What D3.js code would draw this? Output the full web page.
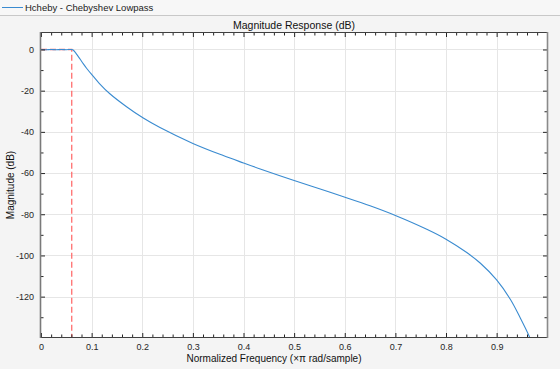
<!DOCTYPE html>
<html><head><meta charset="utf-8">
<script src="https://cdn.jsdelivr.net/npm/d3@7"></script>
<style>
html,body{margin:0;padding:0;background:#f4f4f4;}
svg{display:block;font-family:"Liberation Sans",Arial,Helvetica,sans-serif;}
</style></head>
<body><div id="chart"></div>
<script>
const legendLabel = "Hcheby - Chebyshev Lowpass";
const chartTitle = "Magnitude Response (dB)";
const xLabel = "Normalized Frequency (\u00d7\u03c0 rad/sample)";
const yLabel = "Magnitude (dB)";
const xTicks = [0, 0.1, 0.2, 0.3, 0.4, 0.5, 0.6, 0.7, 0.8, 0.9];
const xTickLabels = ["0", "0.1", "0.2", "0.3", "0.4", "0.5", "0.6", "0.7", "0.8", "0.9"];
const yTicks = [-120, -100, -80, -60, -40, -20, 0];
const yTickLabels = ["-120", "-100", "-80", "-60", "-40", "-20", "0"];
const freq = [0, 0.01, 0.02, 0.03, 0.04, 0.05, 0.058, 0.0607, 0.064, 0.067, 0.071, 0.077, 0.0837, 0.090, 0.100, 0.115, 0.136, 0.169, 0.202, 0.235, 0.300, 0.360, 0.400, 0.433, 0.500, 0.550, 0.599, 0.650, 0.700, 0.762, 0.800, 0.841, 0.868, 0.900, 0.927, 0.947, 0.965, 0.975];
const magnitude = [0, -0.1, 0, -0.1, 0, -0.1, 0, 0, -0.4, -1.2, -2.5, -4.6, -7.0, -9.1, -12.1, -16.4, -21.5, -27.8, -33.3, -37.9, -45.6, -51.5, -55.1, -58.0, -63.6, -67.6, -71.6, -75.9, -80.6, -87.3, -92.1, -98.6, -103.8, -111.9, -121.3, -130.5, -139.6, -146];
const maskFreq = [0, 0.0607, 0.0607];
const maskMag = [0, 0, -139.6];

const W = 560, H = 369;
const m = {l: 41, r: 13, t: 33, b: 32};
const svg = d3.select("#chart").append("svg").attr("width", W).attr("height", H);
svg.append("rect").attr("width", W).attr("height", H).attr("fill", "#f4f4f4");
// header
svg.append("rect").attr("x", 0).attr("y", 0).attr("width", W).attr("height", 15).attr("fill", "#f7f7f7");
svg.append("line").attr("x1", 0).attr("x2", W).attr("y1", 15.5).attr("y2", 15.5).attr("stroke", "#c8c8c8");
svg.append("line").attr("x1", 2).attr("x2", 23).attr("y1", 7.5).attr("y2", 7.5).attr("stroke", "#3a8bd0").attr("stroke-width", 1);
svg.append("text").attr("x", 25).attr("y", 10.5).attr("font-size", 9.5).attr("fill", "#222").text(legendLabel);

const x = d3.scaleLinear().domain([0, 0.9995]).range([m.l, W - m.r]);
const y = d3.scaleLinear().domain([-139.6, 8.0]).range([H - m.b, m.t]);
const pw = W - m.r - m.l, ph = H - m.b - m.t;

svg.append("rect").attr("x", m.l).attr("y", m.t).attr("width", pw).attr("height", ph).attr("fill", "#fff");

// grid
const g = svg.append("g");
g.selectAll(".gx").data(xTicks.slice(1)).enter().append("line")
  .attr("x1", d => Math.round(x(d)) + 0.5).attr("x2", d => Math.round(x(d)) + 0.5)
  .attr("y1", m.t).attr("y2", H - m.b).attr("stroke", "#e6e6e6");
g.selectAll(".gy").data(yTicks).enter().append("line")
  .attr("y1", d => Math.round(y(d)) + 0.5).attr("y2", d => Math.round(y(d)) + 0.5)
  .attr("x1", m.l).attr("x2", W - m.r).attr("stroke", "#e6e6e6");

// clip
svg.append("clipPath").attr("id", "clip").append("rect").attr("x", m.l).attr("y", m.t).attr("width", pw).attr("height", ph);
const plot = svg.append("g").attr("clip-path", "url(#clip)");

const maskData = maskFreq.map((f, i) => [f, maskMag[i]]);
plot.append("path").datum(maskData)
  .attr("d", d3.line().x(d => x(d[0])).y(d => y(d[1])))
  .attr("fill", "none").attr("stroke", "#ff6f6f").attr("stroke-width", 1.3).attr("stroke-dasharray", "6,3");

const data = freq.map((f, i) => [f, magnitude[i]]);
plot.append("path").datum(data)
  .attr("d", d3.line().curve(d3.curveCatmullRom.alpha(0.5)).x(d => x(d[0])).y(d => y(d[1])))
  .attr("fill", "none").attr("stroke", "#3a8bd0").attr("stroke-width", 1.1);

// axes with inward ticks
const xMinor = d3.range(0, 1.0, 0.02).filter(v => Math.abs(v * 10 - Math.round(v * 10)) > 1e-6);
const yMinor = d3.range(-130, 8, 10).filter(v => v % 20 !== 0);
const ax = svg.append("g");
// bottom
ax.append("g").attr("transform", `translate(0,${H - m.b})`)
  .call(d3.axisBottom(x).tickValues(xTicks).tickFormat((d, i) => xTickLabels[i]).tickSizeInner(-4).tickSizeOuter(0).tickPadding(7));
ax.append("g").attr("transform", `translate(0,${H - m.b})`)
  .call(d3.axisBottom(x).tickValues(xMinor).tickFormat("").tickSizeInner(-2.5).tickSizeOuter(0));
// top
ax.append("g").attr("transform", `translate(0,${m.t})`)
  .call(d3.axisTop(x).tickValues(xTicks).tickFormat("").tickSizeInner(-4).tickSizeOuter(0));
ax.append("g").attr("transform", `translate(0,${m.t})`)
  .call(d3.axisTop(x).tickValues(xMinor).tickFormat("").tickSizeInner(-2.5).tickSizeOuter(0));
// left
ax.append("g").attr("transform", `translate(${m.l},0)`)
  .call(d3.axisLeft(y).tickValues(yTicks).tickFormat((d, i) => yTickLabels[i]).tickSizeInner(-4).tickSizeOuter(0).tickPadding(7));
ax.append("g").attr("transform", `translate(${m.l},0)`)
  .call(d3.axisLeft(y).tickValues(yMinor).tickFormat("").tickSizeInner(-2.5).tickSizeOuter(0));
// right
ax.append("g").attr("transform", `translate(${W - m.r},0)`)
  .call(d3.axisRight(y).tickValues(yTicks).tickFormat("").tickSizeInner(-4).tickSizeOuter(0));
ax.append("g").attr("transform", `translate(${W - m.r},0)`)
  .call(d3.axisRight(y).tickValues(yMinor).tickFormat("").tickSizeInner(-2.5).tickSizeOuter(0));
ax.selectAll(".domain").remove();
ax.selectAll(".tick line").attr("stroke", "#262626");
ax.selectAll("text").attr("font-size", 9).attr("fill", "#262626").attr("font-family", "Liberation Sans, Arial, sans-serif");

// box
svg.append("line").attr("x1", m.l).attr("x2", W - m.r).attr("y1", H - m.b + 0.5).attr("y2", H - m.b + 0.5).attr("stroke", "#404040").attr("stroke-width", 1.2);
svg.append("line").attr("x1", m.l).attr("x2", W - m.r).attr("y1", m.t - 0.5).attr("y2", m.t - 0.5).attr("stroke", "#404040").attr("stroke-width", 1);
svg.append("line").attr("x1", m.l - 0.5).attr("x2", m.l - 0.5).attr("y1", m.t - 1).attr("y2", H - m.b + 1).attr("stroke", "#7a7a7a").attr("stroke-width", 1.6);
svg.append("line").attr("x1", W - m.r + 0.5).attr("x2", W - m.r + 0.5).attr("y1", m.t - 1).attr("y2", H - m.b + 1).attr("stroke", "#8a8a8a").attr("stroke-width", 1.6);

// titles
svg.append("text").attr("x", (m.l + W - m.r) / 2).attr("y", 28.5).attr("text-anchor", "middle")
  .attr("font-size", 10.5).attr("fill", "#111").text(chartTitle);
svg.append("text").attr("x", 274).attr("y", 362).attr("text-anchor", "middle")
  .attr("font-size", 10).attr("fill", "#111").text(xLabel);
svg.append("text").attr("transform", `translate(13.5,${(m.t + H - m.b) / 2}) rotate(-90)`).attr("text-anchor", "middle")
  .attr("font-size", 10).attr("fill", "#111").text(yLabel);
</script></body></html>
